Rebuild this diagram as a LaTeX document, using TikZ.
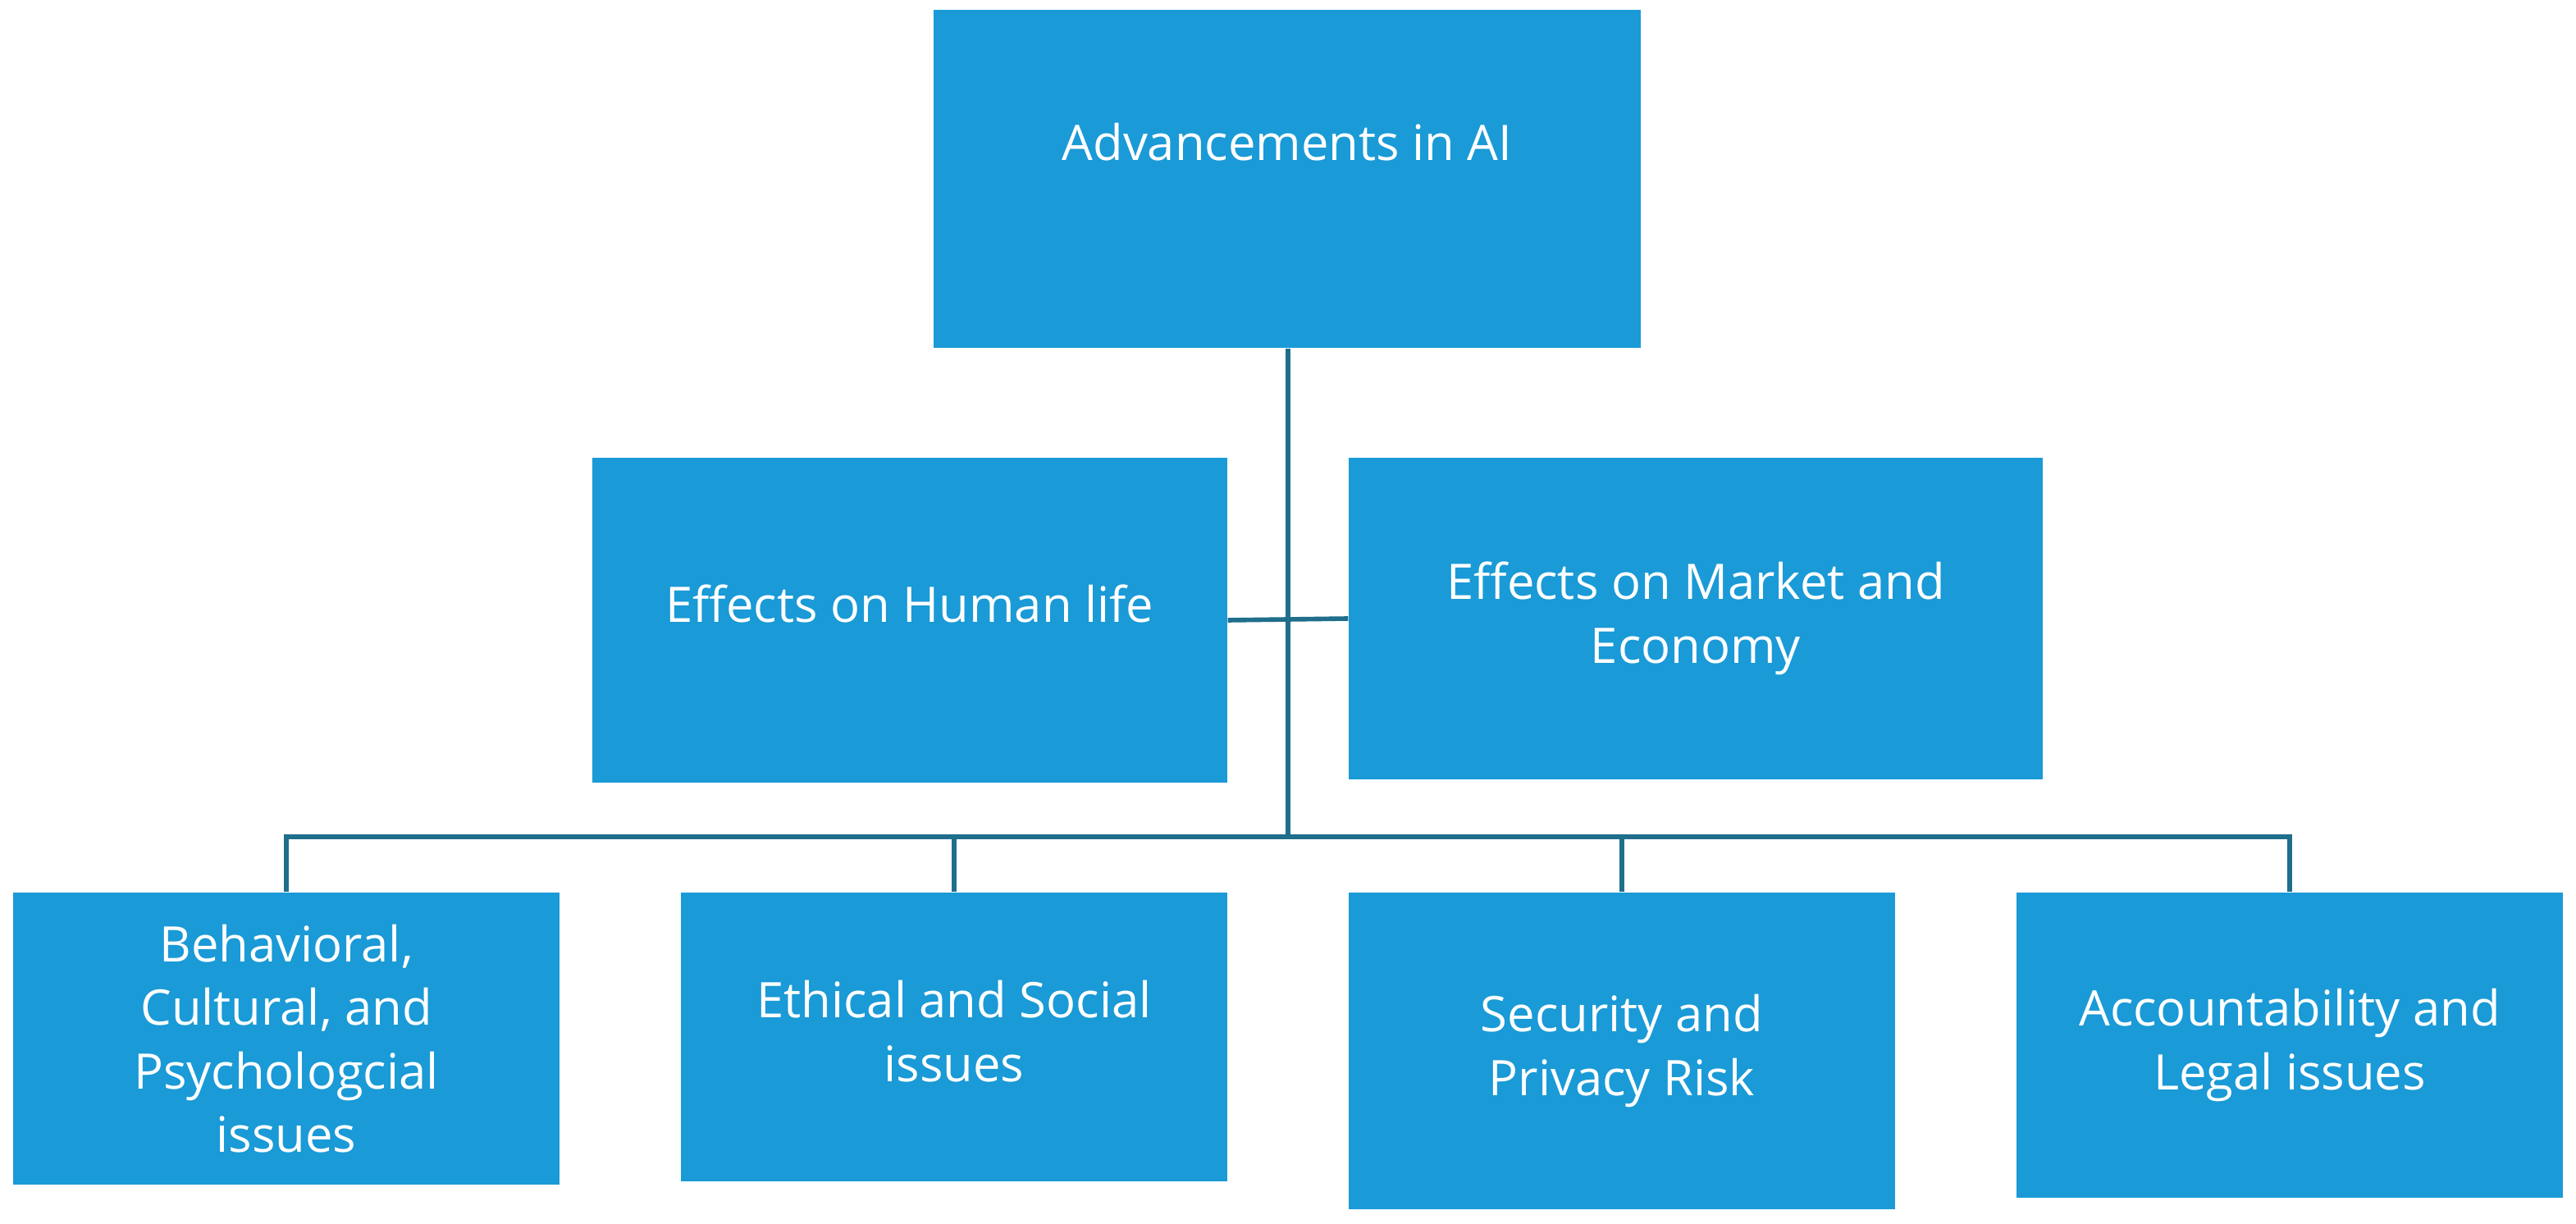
\documentclass[tikz,border=0pt]{standalone}
\usepackage{fontspec}
\setmainfont{Open Sans}
\usetikzlibrary{positioning,calc}
\definecolor{boxblue}{HTML}{1A9AD6}
\definecolor{linkblue}{HTML}{1F6E8C}
\tikzset{
box/.style = {fill=boxblue, text=white, rectangle, inner sep=2pt, align=center, font=\fontsize{17}{22}\selectfont},
link/.style = {draw=linkblue, line width=1.6pt}
}

\begin{document}
\begin{tikzpicture}[x=0.02cm, y=-0.02cm]
  \useasboundingbox (0,0) rectangle (1570,746);
  \node [box, minimum width=8.62cm, minimum height=4.12cm] (ai)      at (784.5,109)  {\raisebox{0.9cm}{Advancements in AI}};
  \node [box, minimum width=7.74cm, minimum height=3.96cm] (human)   at (554.5,378)  {\raisebox{0.4cm}{Effects on Human life}};
  \node [box, minimum width=8.46cm, minimum height=3.92cm] (market)  at (1033.5,377) {\raisebox{0.4cm}{\begin{tabular}{@{}c@{}}Effects on Market and\\Economy\end{tabular}}};
  \node [box, minimum width=6.66cm, minimum height=3.56cm] (behav)   at (174.5,633)  {Behavioral,\\Cultural, and\\Psychologcial\\issues};
  \node [box, minimum width=6.66cm, minimum height=3.52cm] (ethic)   at (581.5,632)  {\raisebox{0.3cm}{\begin{tabular}{@{}c@{}}Ethical and Social\\issues\end{tabular}}};
  \node [box, minimum width=6.66cm, minimum height=3.86cm] (secur)   at (988.5,640.5){\raisebox{0.2cm}{\begin{tabular}{@{}c@{}}Security and\\Privacy Risk\end{tabular}}};
  \node [box, minimum width=6.66cm, minimum height=3.72cm] (account) at (1395.5,637) {\raisebox{0.4cm}{\begin{tabular}{@{}c@{}}Accountability and\\Legal issues\end{tabular}}};

  \coordinate (hub) at (785,510);
  \draw [link] (ai.south -| hub) -- (hub);
  \draw [link] (human.east) -- (market.west);
  \draw [link] (behav.north) -- (behav.north |- hub) -- (account.north |- hub) -- (account.north);
  \draw [link] (ethic.north |- hub) -- (ethic.north);
  \draw [link] (secur.north |- hub) -- (secur.north);
\end{tikzpicture}
\end{document}
